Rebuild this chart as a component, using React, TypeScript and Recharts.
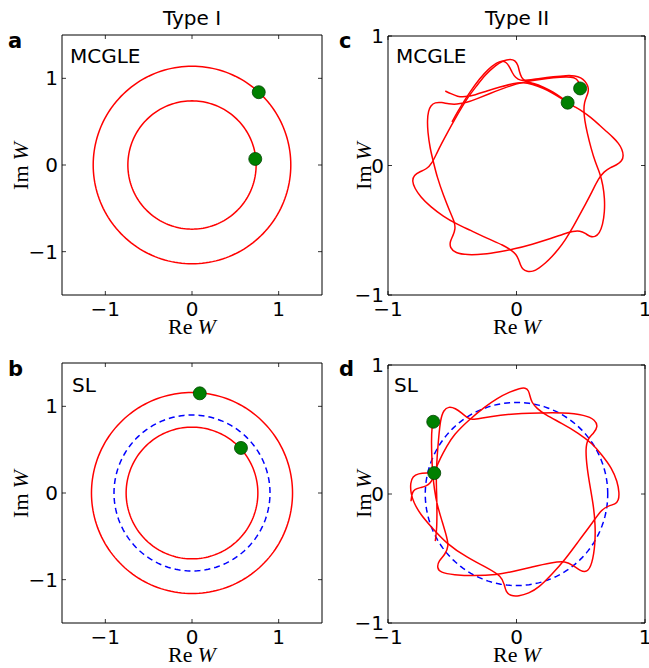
import React from 'react'
import { ScatterChart, Scatter, XAxis, YAxis, ReferenceArea } from 'recharts'

const RED = '#ff0000'
const BLUE = '#0000ff'
const GREEN = '#008000'
const SANS = '"DejaVu Sans", sans-serif'
const SERIF = '"Liberation Serif", "DejaVu Serif", serif'

const TICKS = [-1, 0, 1]
const DOMAIN_I: [number, number] = [-1.5, 1.5]
const DOMAIN_II: [number, number] = [-1, 1]

// panel a - Type I, MCGLE
const A_RADII = [1.14, 0.74]
const A_DOTS_X = [0.77, 0.73]
const A_DOTS_Y = [0.84, 0.07]

// panel b - Type I, SL
const B_RADII = [1.16, 0.76]
const B_REF_RADII = [0.9]
const B_DOTS_X = [0.09, 0.565]
const B_DOTS_Y = [1.15, 0.52]

// panel c - Type II, MCGLE (two traced orbits, each ends at its dot)
const C_ORBIT_1: [number, number][] = [
  [-0.502, 0.336], [-0.46, 0.411], [-0.414, 0.488], [-0.357, 0.575], [-0.289, 0.668], [-0.219, 0.745],
  [-0.154, 0.794], [-0.113, 0.81], [-0.082, 0.799], [-0.056, 0.766], [-0.035, 0.719], [-0.009, 0.678],
  [0.032, 0.655], [0.079, 0.658], [0.183, 0.673], [0.287, 0.686], [0.39, 0.696], [0.455, 0.694],
  [0.502, 0.678], [0.533, 0.653], [0.556, 0.616], [0.562, 0.575], [0.546, 0.534], [0.528, 0.488],
  [0.523, 0.429], [0.53, 0.351], [0.551, 0.248], [0.58, 0.133], [0.613, 0.024], [0.65, -0.06],
  [0.673, -0.151], [0.686, -0.254], [0.686, -0.357], [0.671, -0.459], [0.645, -0.524], [0.611, -0.552],
  [0.572, -0.55], [0.536, -0.524], [0.494, -0.503], [0.442, -0.506], [0.364, -0.529], [0.276, -0.562],
  [0.121, -0.609], [-0.025, -0.647], [-0.126, -0.665], [-0.255, -0.686], [-0.385, -0.691], [-0.476, -0.676],
  [-0.518, -0.635], [-0.518, -0.588], [-0.492, -0.537], [-0.476, -0.49], [-0.481, -0.439], [-0.515, -0.364],
  [-0.567, -0.236], [-0.619, -0.086], [-0.647, 0.03], [-0.673, 0.133], [-0.691, 0.261], [-0.694, 0.351],
  [-0.686, 0.421], [-0.668, 0.462], [-0.634, 0.488], [-0.582, 0.488], [-0.528, 0.475], [-0.466, 0.472],
  [-0.388, 0.485], [-0.31, 0.514], [-0.206, 0.557], [-0.102, 0.596], [0.001, 0.632], [0.079, 0.65],
  [0.183, 0.665], [0.287, 0.678], [0.39, 0.686], [0.45, 0.681], [0.486, 0.653], [0.495, 0.595],
]
const C_ORBIT_2: [number, number][] = [
  [-0.554, 0.575], [-0.512, 0.555], [-0.46, 0.532], [-0.401, 0.529], [-0.323, 0.544], [-0.232, 0.575],
  [-0.128, 0.606], [-0.025, 0.635], [0.053, 0.642], [0.121, 0.627], [0.209, 0.596], [0.276, 0.562],
  [0.339, 0.524], [0.393, 0.488], [0.455, 0.452], [0.51, 0.421], [0.577, 0.372], [0.639, 0.318],
  [0.702, 0.261], [0.754, 0.215], [0.795, 0.171], [0.821, 0.127], [0.834, 0.076], [0.821, 0.035],
  [0.78, 0.004], [0.728, -0.017], [0.681, -0.048], [0.639, -0.099], [0.588, -0.202], [0.536, -0.3],
  [0.484, -0.395], [0.432, -0.49], [0.38, -0.575], [0.328, -0.645], [0.276, -0.704], [0.224, -0.755],
  [0.173, -0.794], [0.126, -0.82], [0.082, -0.82], [0.048, -0.802], [0.03, -0.768], [0.017, -0.725],
  [-0.004, -0.686], [-0.035, -0.658], [-0.1, -0.616], [-0.23, -0.562], [-0.359, -0.5], [-0.476, -0.447],
  [-0.567, -0.395], [-0.671, -0.318], [-0.748, -0.241], [-0.792, -0.176], [-0.813, -0.12], [-0.798, -0.073],
  [-0.751, -0.048], [-0.699, -0.027], [-0.658, 0.017], [-0.621, 0.094], [-0.582, 0.171], [-0.531, 0.266],
  [-0.479, 0.359], [-0.427, 0.447], [-0.375, 0.532], [-0.31, 0.615], [-0.245, 0.699], [-0.167, 0.771],
  [-0.102, 0.812], [-0.045, 0.822], [-0.012, 0.812], [0.012, 0.776], [0.022, 0.725], [0.038, 0.678],
  [0.069, 0.647], [0.131, 0.636], [0.209, 0.607], [0.287, 0.567], [0.352, 0.522], [0.398, 0.488],
]
const C_DOTS_X = [0.495, 0.398]
const C_DOTS_Y = [0.595, 0.485]

// panel d - Type II, SL
const D_REF_RADII = [0.71]
const D_ORBIT_1: [number, number][] = [
  [-0.632, -0.366], [-0.619, -0.263], [-0.619, -0.105], [-0.621, -0.007], [-0.624, 0.073], [-0.624, 0.161],
  [-0.619, 0.277], [-0.606, 0.432], [-0.593, 0.574], [-0.567, 0.652], [-0.528, 0.678], [-0.476, 0.665],
  [-0.424, 0.626], [-0.385, 0.592], [-0.346, 0.574], [-0.281, 0.587], [-0.126, 0.613], [0.043, 0.626],
  [0.198, 0.628], [0.354, 0.631], [0.536, 0.613], [0.613, 0.574], [0.634, 0.522], [0.601, 0.471],
  [0.556, 0.432], [0.536, 0.354], [0.549, 0.199], [0.575, 0.044], [0.601, -0.105], [0.613, -0.235],
  [0.613, -0.39], [0.588, -0.545], [0.549, -0.609], [0.497, -0.596], [0.445, -0.557], [0.38, -0.519],
  [0.276, -0.532], [0.121, -0.565], [-0.035, -0.602], [-0.152, -0.627], [-0.333, -0.635], [-0.489, -0.627],
  [-0.593, -0.609], [-0.619, -0.571], [-0.606, -0.519], [-0.554, -0.467], [-0.528, -0.402], [-0.541, -0.338],
  [-0.58, -0.209], [-0.619, -0.08], [-0.639, 0.034], [-0.652, 0.15], [-0.658, 0.254], [-0.663, 0.409],
  [-0.658, 0.522], [-0.648, 0.56],
]
const D_ORBIT_2: [number, number][] = [
  [-0.821, -0.056], [-0.813, 0.008], [-0.795, 0.037], [-0.748, 0.05], [-0.702, 0.06], [-0.668, 0.086],
  [-0.647, 0.13], [-0.632, 0.189], [-0.593, 0.277], [-0.543, 0.37], [-0.489, 0.458], [-0.372, 0.574],
  [-0.243, 0.678], [-0.152, 0.742], [-0.048, 0.794], [0.027, 0.82], [0.069, 0.825], [0.095, 0.802],
  [0.105, 0.758], [0.118, 0.711], [0.157, 0.665], [0.224, 0.613], [0.354, 0.548], [0.484, 0.471],
  [0.588, 0.393], [0.665, 0.303], [0.743, 0.199], [0.785, 0.096], [0.8, 0.008], [0.795, -0.049],
  [0.769, -0.08], [0.717, -0.09], [0.66, -0.123], [0.601, -0.209], [0.484, -0.364], [0.38, -0.506],
  [0.276, -0.622], [0.173, -0.726], [0.095, -0.77], [0.017, -0.793], [-0.048, -0.79], [-0.082, -0.759],
  [-0.095, -0.702], [-0.115, -0.638], [-0.23, -0.57], [-0.385, -0.492], [-0.541, -0.389], [-0.671, -0.247],
  [-0.748, -0.157], [-0.8, -0.067], [-0.823, 0.008], [-0.826, 0.086], [-0.808, 0.137], [-0.764, 0.159],
  [-0.699, 0.164], [-0.64, 0.162],
]
const D_DOTS_X = [-0.648, -0.64]
const D_DOTS_Y = [0.56, 0.162]

type Pt = { x: number; y: number }
type Series = { data: Pt[]; color: string; dashed?: boolean; smooth?: boolean }

// circle of a given radius, sampled for the line renderer
const circle = (r: number): Pt[] =>
  Array.from({ length: 181 }, (_, i) => {
    const t = (i / 180) * 2 * Math.PI
    return { x: r * Math.cos(t), y: r * Math.sin(t) }
  })
const toPts = (arr: [number, number][]): Pt[] => arr.map(([x, y]) => ({ x, y }))
const zipDots = (xs: number[], ys: number[]): Pt[] => xs.map((x, i) => ({ x, y: ys[i] }))

const fmt = (v: number) => (v < 0 ? `\u2212${-v}` : `${v}`)
const TICK_LEN = 4

// bottom tick also draws the matching inward tick on the top spine (span = plot height)
const bottomTick = (span: number) => ({ x, y, payload }: any) => (
  <g>
    <line x1={x} x2={x} y1={y} y2={y - TICK_LEN} stroke="#000" strokeWidth={0.8} />
    <line x1={x} x2={x} y1={y - span} y2={y - span + TICK_LEN} stroke="#000" strokeWidth={0.8} />
    <text x={x} y={y + 21} textAnchor="middle" fontFamily={SANS} fontSize={20} fill="#000">
      {fmt(payload.value)}
    </text>
  </g>
)
// left tick also draws the inward tick on the right spine (span = plot width)
const leftTick = (span: number) => ({ x, y, payload }: any) => (
  <g>
    <line x1={x} x2={x + TICK_LEN} y1={y} y2={y} stroke="#000" strokeWidth={0.8} />
    <line x1={x + span} x2={x + span - TICK_LEN} y1={y} y2={y} stroke="#000" strokeWidth={0.8} />
    <text x={x - 4} y={y + 7} textAnchor="end" fontFamily={SANS} fontSize={20} fill="#000">
      {fmt(payload.value)}
    </text>
  </g>
)
const NoShape = () => <g />
function DotShape({ cx, cy }: any) {
  return <circle cx={cx} cy={cy} r={6.5} fill={GREEN} stroke="#004400" strokeWidth={0.8} />
}

const X_AXIS_H = 45
const Y_AXIS_W = 40

interface PanelProps {
  left: number
  top: number
  width: number
  height: number
  margin: { top: number; right: number; left: number; bottom: number }
  domain: [number, number]
  lines: Series[]
  dots: Pt[]
}

function Panel({ left, top, width, height, margin, domain, lines, dots }: PanelProps) {
  const plotW = width - margin.left - margin.right - Y_AXIS_W
  const plotH = height - margin.top - margin.bottom - X_AXIS_H
  return (
    <div style={{ position: 'absolute', left, top }}>
      <ScatterChart width={width} height={height} margin={margin}>
        <XAxis xAxisId="b" type="number" dataKey="x" domain={domain} ticks={TICKS} interval={0}
          height={X_AXIS_H} allowDataOverflow tickSize={0} tickMargin={0} tickLine={false}
          axisLine={false} tick={bottomTick(plotH)} />
        <YAxis yAxisId="l" type="number" dataKey="y" domain={domain} ticks={TICKS} interval={0}
          width={Y_AXIS_W} allowDataOverflow tickSize={0} tickMargin={0} tickLine={false}
          axisLine={false} tick={leftTick(plotW)} />
        {lines.map((s, i) => (
          <Scatter key={i} xAxisId="b" yAxisId="l" data={s.data} fill="none" shape={NoShape}
            line={{ stroke: s.color, strokeWidth: 1.5, strokeDasharray: s.dashed ? '6 4' : undefined }}
            lineType="joint" lineJointType={s.smooth ? 'basis' : 'linear'} isAnimationActive={false} />
        ))}
        <Scatter xAxisId="b" yAxisId="l" data={dots} shape={DotShape} isAnimationActive={false} />
        <ReferenceArea xAxisId="b" yAxisId="l" x1={domain[0]} x2={domain[1]} y1={domain[0]} y2={domain[1]}
          fill="none" stroke="#000" strokeWidth={1} ifOverflow="visible" />
      </ScatterChart>
    </div>
  )
}

function Overlay() {
  const imW = (x: number, y: number) => (
    <text transform={`translate(${x},${y}) rotate(-90)`} textAnchor="middle" fontFamily={SERIF} fontSize={22} fill="#000">
      Im<tspan dx={5} fontStyle="italic">W</tspan>
    </text>
  )
  const reW = (x: number, y: number) => (
    <text x={x} y={y} textAnchor="middle" fontFamily={SERIF} fontSize={22} fill="#000">
      Re<tspan dx={5} fontStyle="italic">W</tspan>
    </text>
  )
  return (
    <svg width={649} height={668} style={{ position: 'absolute', left: 0, top: 0, pointerEvents: 'none' }}>
      <g fontFamily={SANS} fontSize={20} fill="#000">
        <text x={192} y={25} textAnchor="middle">Type I</text>
        <text x={517} y={25} textAnchor="middle">Type II</text>
        <text x={70} y={63}>MCGLE</text>
        <text x={396} y={63}>MCGLE</text>
        <text x={72} y={392}>SL</text>
        <text x={394} y={392}>SL</text>
      </g>
      <g fontFamily={SANS} fontSize={21} fontWeight="bold" fill="#000">
        <text x={8} y={48}>a</text>
        <text x={8} y={376}>b</text>
        <text x={339} y={48}>c</text>
        <text x={339} y={376}>d</text>
      </g>
      {reW(192, 334)}
      {reW(192, 662)}
      {reW(517, 334)}
      {reW(517, 662)}
      {imW(28, 166)}
      {imW(28, 494)}
      {imW(371, 166)}
      {imW(371, 494)}
    </svg>
  )
}

export default function App() {
  const panelA: Series[] = A_RADII.map(r => ({ data: circle(r), color: RED }))
  const panelB: Series[] = [
    ...B_REF_RADII.map(r => ({ data: circle(r), color: BLUE, dashed: true })),
    ...B_RADII.map(r => ({ data: circle(r), color: RED })),
  ]
  const panelC: Series[] = [
    { data: toPts(C_ORBIT_1), color: RED, smooth: true },
    { data: toPts(C_ORBIT_2), color: RED, smooth: true },
  ]
  const panelD: Series[] = [
    ...D_REF_RADII.map(r => ({ data: circle(r), color: BLUE, dashed: true })),
    { data: toPts(D_ORBIT_1), color: RED, smooth: true },
    { data: toPts(D_ORBIT_2), color: RED, smooth: true },
  ]

  return (
    <div style={{ position: 'absolute', left: 0, top: 0, width: 649, height: 668, background: '#fff', overflow: 'hidden' }}>
      <Panel left={0} top={0} width={330} height={340} margin={{ top: 35, right: 8, left: 22, bottom: 0 }}
        domain={DOMAIN_I} lines={panelA} dots={zipDots(A_DOTS_X, A_DOTS_Y)} />
      <Panel left={0} top={330} width={330} height={338} margin={{ top: 33, right: 8, left: 22, bottom: 0 }}
        domain={DOMAIN_I} lines={panelB} dots={zipDots(B_DOTS_X, B_DOTS_Y)} />
      <Panel left={330} top={0} width={319} height={340} margin={{ top: 36, right: 4, left: 18, bottom: 0 }}
        domain={DOMAIN_II} lines={panelC} dots={zipDots(C_DOTS_X, C_DOTS_Y)} />
      <Panel left={330} top={330} width={319} height={338} margin={{ top: 35, right: 4, left: 18, bottom: 0 }}
        domain={DOMAIN_II} lines={panelD} dots={zipDots(D_DOTS_X, D_DOTS_Y)} />
      <Overlay />
    </div>
  )
}
